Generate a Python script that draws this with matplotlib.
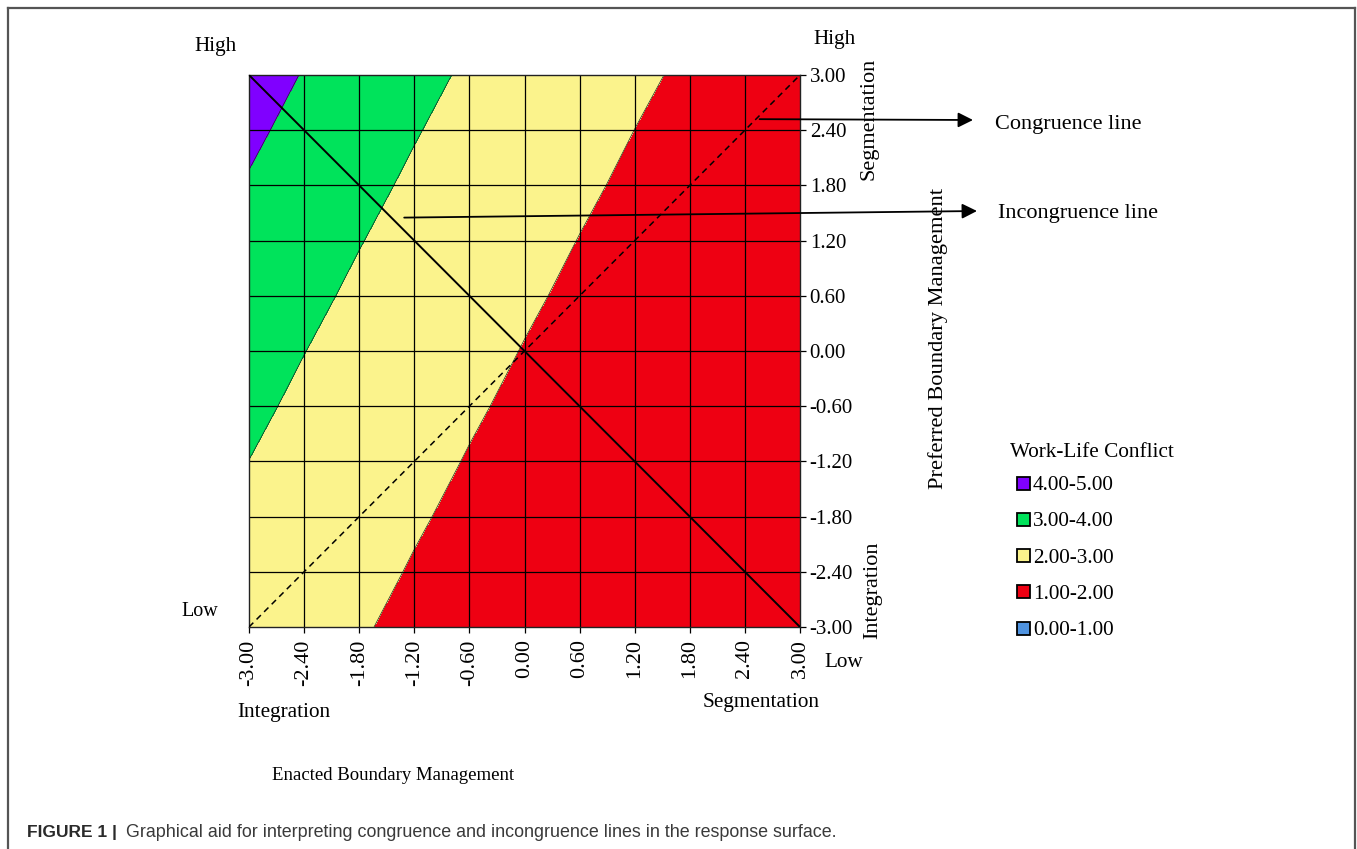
import numpy as np
import matplotlib
matplotlib.use("Agg")
import matplotlib.pyplot as plt
from matplotlib.patches import Rectangle
from matplotlib.lines import Line2D

W, H = 1357, 849
SERIF = "Liberation Serif"
SANS = "Liberation Sans"

# Axis values (enacted = x, preferred = y)
tick_values = [-3.00, -2.40, -1.80, -1.20, -0.60, 0.00, 0.60, 1.20, 1.80, 2.40, 3.00]
tick_labels = ["-3.00", "-2.40", "-1.80", "-1.20", "-0.60", "0.00",
               "0.60", "1.20", "1.80", "2.40", "3.00"]

# Polynomial response surface: Z = b0 + b1*X + b2*Y + b3*X^2 + b4*X*Y + b5*Y^2
b0, b1, b2, b3, b4, b5 = 1.977, -0.329, 0.173, 0.0426, -0.0449, 0.0118

# Work-life conflict bands
levels = [0.0, 1.0, 2.0, 3.0, 4.0, 5.0]
band_colors = ["#4f93e0", "#ee0012", "#fbf38c", "#00e35b", "#8000ff"]
legend_labels = ["4.00-5.00", "3.00-4.00", "2.00-3.00", "1.00-2.00", "0.00-1.00"]
legend_colors = ["#8000ff", "#00e35b", "#fbf38c", "#ee0012", "#4f93e0"]

plt.rcParams["axes.unicode_minus"] = False

fig = plt.figure(figsize=(W / 100, H / 100), dpi=100)


def fx(x):
    return x / W


def fy(y):
    return 1 - y / H


ax = fig.add_axes([fx(249), fy(627), (800 - 249) / W, (627 - 75) / H])

X, Y = np.meshgrid(np.array(tick_values), np.array(tick_values))
Z = b0 + b1 * X + b2 * Y + b3 * X ** 2 + b4 * X * Y + b5 * Y ** 2

ax.contourf(X, Y, Z, levels=levels, colors=band_colors, zorder=1)
ax.contour(X, Y, Z, levels=levels[1:-1], colors="#202020", linewidths=0.5, zorder=1.2)

# Grid lines at every tick
for v in tick_values[1:-1]:
    ax.axvline(v, color="black", lw=0.9, zorder=2)
    ax.axhline(v, color="black", lw=0.9, zorder=2)

# Incongruence (solid) and congruence (dashed) lines
ax.plot([-3, 3], [3, -3], color="black", lw=1.4, zorder=3)
ax.plot([-3, 3], [-3, 3], color="black", lw=1.1, ls=(0, (4, 3)), zorder=3)

ax.set_xlim(-3, 3)
ax.set_ylim(-3, 3)
ax.set_xticks(tick_values)
ax.set_xticklabels(tick_labels, rotation=90, family=SERIF, fontsize=16)
ax.set_yticks(tick_values)
ax.set_yticklabels(tick_labels, family=SERIF, fontsize=15)
ax.yaxis.tick_right()
ax.tick_params(axis="x", length=4, width=0.9, pad=5, colors="black")
ax.tick_params(axis="y", length=4, width=0.9, pad=3, colors="black")
for s in ax.spines.values():
    s.set_linewidth(1.0)
    s.set_color("#222222")

# Arrows pointing to line descriptions
ax.annotate("", xy=(fx(973), fy(120)), xycoords="figure fraction",
            xytext=(2.56, 2.52), textcoords="data", annotation_clip=False,
            arrowprops=dict(arrowstyle="-|>,head_length=0.9,head_width=0.45",
                            color="black", lw=1.3, shrinkA=0, shrinkB=0,
                            mutation_scale=10))
ax.annotate("", xy=(fx(977), fy(211)), xycoords="figure fraction",
            xytext=(-1.31, 1.45), textcoords="data", annotation_clip=False,
            arrowprops=dict(arrowstyle="-|>,head_length=0.9,head_width=0.45",
                            color="black", lw=1.3, shrinkA=0, shrinkB=0,
                            mutation_scale=10))


def label(x, y, s, size=15.3, rot=0, ha="left", va="baseline", **kw):
    fig.text(fx(x), fy(y), s, family=SERIF, fontsize=size, rotation=rot,
             ha=ha, va=va, color="black", **kw)


label(194, 51, "High")
label(813, 44, "High")
label(181, 616, "Low", size=14.5)
label(824, 667, "Low")
label(237, 717, "Integration")
label(703, 707, "Segmentation")
label(393, 780, "Enacted Boundary Management", size=13.5, ha="center")
label(869, 119, "Segmentation", size=16, rot=90, ha="center", va="center")
label(873, 590, "Integration", size=16, rot=90, ha="center", va="center")
label(938, 338, "Preferred Boundary Management", size=16.2, rot=90, ha="center", va="center")
label(995, 129, "Congruence line", size=16)
label(998, 218, "Incongruence line", size=16)

# Legend
label(1010, 457, "Work-Life Conflict")
for i, (lab, col) in enumerate(zip(legend_labels, legend_colors)):
    cy = 483 + i * 36.3
    fig.patches.append(Rectangle((fx(1017), fy(cy + 6.5)), 13 / W, 13 / H,
                                 transform=fig.transFigure, facecolor=col,
                                 edgecolor="black", lw=1.3))
    label(1033, cy + 7, lab)

# Caption
fig.text(fx(27), fy(837), "FIGURE 1 |", family=SANS, fontsize=12.5,
         weight="bold", color="#2a2a2a", ha="left", va="baseline")
fig.text(fx(126), fy(837),
         "Graphical aid for interpreting congruence and incongruence lines in the response surface.",
         family=SANS, fontsize=12.9, color="#3a3a3a", ha="left", va="baseline")

# Page frame
frame = dict(color="#555555", lw=1.6, transform=fig.transFigure)
fig.lines.append(Line2D([fx(8), fx(8)], [0, fy(8)], **frame))
fig.lines.append(Line2D([fx(8), fx(1355)], [fy(8), fy(8)], **frame))
fig.lines.append(Line2D([fx(1355), fx(1355)], [fy(8), 0], **frame))

fig.savefig("out.png", dpi=100)
